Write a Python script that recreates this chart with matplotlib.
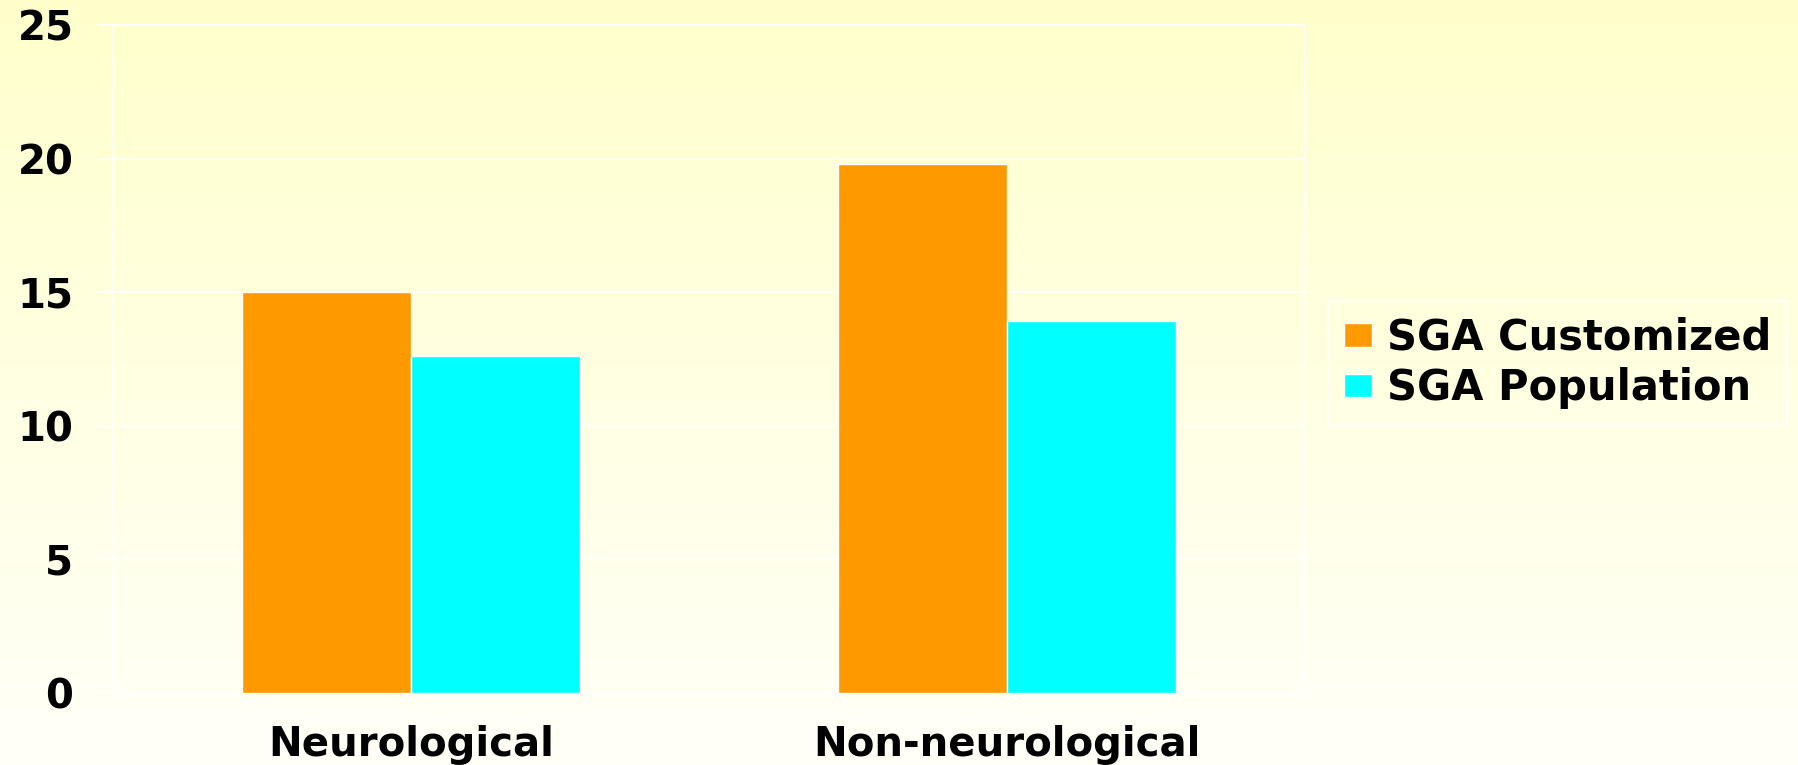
import matplotlib.pyplot as plt
import numpy as np
from matplotlib.colors import LinearSegmentedColormap

categories = ["Neurological", "Non-neurological"]
series_names = ["SGA Customized", "SGA Population"]
customized = [15.0, 19.8]
population = [12.6, 13.9]
y_ticks = [0, 5, 10, 15, 20, 25]

ORANGE = "#FF9900"
CYAN = "#00FFFF"
BG_TOP = "#FFFFCC"
BG_BOTTOM = "#FFFFF8"
FS = 29

plt.rcParams["font.family"] = ["DejaVu Sans"]
plt.rcParams["font.weight"] = "bold"

W, H = 1799, 765
fig = plt.figure(figsize=(W / 100, H / 100), dpi=100)

# vertical gradient behind everything
bg = fig.add_axes([0, 0, 1, 1], zorder=-10)
grad = np.linspace(0, 1, 256).reshape(-1, 1)
cmap = LinearSegmentedColormap.from_list("bg", [BG_TOP, BG_BOTTOM])
bg.imshow(grad, aspect="auto", cmap=cmap, extent=[0, 1, 0, 1], origin="upper")
bg.set_axis_off()

ax = fig.add_axes([113 / W, (H - 692.7) / H, (1305 - 113) / W, (692.7 - 25) / H])
ax.patch.set_alpha(0)

x = np.arange(len(categories))
w = 0.283
ax.bar(x - w / 2, customized, w, color=ORANGE, edgecolor="white", linewidth=1.0,
       label=series_names[0], zorder=3)
ax.bar(x + w / 2, population, w, color=CYAN, edgecolor="white", linewidth=1.0,
       label=series_names[1], zorder=3)

ax.set_xlim(-0.5, 1.5)
ax.set_ylim(0, 25)
ax.set_yticks(y_ticks)
ax.set_xticks(x, labels=categories)
ax.grid(axis="y", color="white", linewidth=1.2, zorder=1)
for side in ["left", "right", "top", "bottom"]:
    ax.spines[side].set_color("white")
    ax.spines[side].set_linewidth(1.2)
ax.tick_params(axis="y", direction="out", length=11.5, width=1.2, color="white",
               pad=17, labelsize=FS)
ax.tick_params(axis="x", length=0, pad=23, labelsize=FS)

leg = ax.legend(
    loc="center left",
    bbox_to_anchor=(1328 / W, (H - 363) / H),
    bbox_transform=fig.transFigure,
    fontsize=30,
    frameon=True,
    fancybox=False,
    edgecolor="white",
    facecolor="none",
    borderaxespad=0,
    borderpad=0.38,
    handlelength=0.68,
    handleheight=0.5,
    handletextpad=0.36,
    labelspacing=0.2,
)
leg.get_frame().set_linewidth(1.2)

fig.savefig("out.png", dpi=100)
